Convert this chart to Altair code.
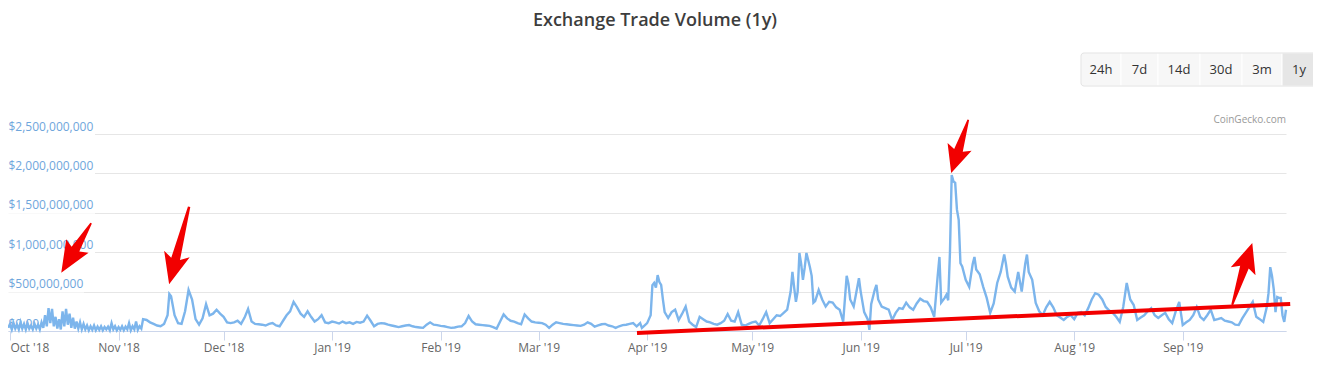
import altair as alt
import pandas as pd

# ---- data: (day offset from 2018-10-01, exchange volume in million USD) ----
oct_2018 = [(-0.5,40),(0,90),(0.5,20),(1,100),(1.5,30),(2,80),(2.5,20),(3,110),(3.5,30),(4,90),(4.5,20),
            (5,100),(5.5,30),(6,70),(6.5,20),(7,90),(7.5,30),(8,80),(8.5,20),(9,110),(9.5,40),(10,200),
            (10.5,60),(11,290),(11.5,100),(12,280),(12.5,60),(13,180),(13.5,30),(14,150),(14.5,20),(15,250),
            (15.5,60),(16,280),(16.5,80),(17,220),(17.5,40),(18,170),(18.5,30),(19,120),(19.5,30),(20,110),
            (20.5,20),(21,90),(21.5,20),(22,70),(22.5,10),(23,60),(23.5,15),(24,70),(24.5,10),(25,55),
            (25.5,15),(26,60),(26.5,10),(27,50),(27.5,20),(28,55),(28.5,10),(29,100),(29.5,20),(30,60),(30.5,10)]
nov_2018 = [(31,50),(31.5,15),(32,60),(32.5,10),(33,55),(33.5,20),(34,100),(34.5,10),(35,60),(35.5,20),
            (36,120),(36.5,15),(37,60),(37.5,30),(38,150),(39,140),(40,110),(41,90),(42,70),(43,60),(44,90),
            (45,200),(45.5,470),(46,440),(47,200),(48,100),(49,90),(50,250),(51,520),(52,400),(53,150),(54,80),
            (55,160),(56,340),(57,200),(58,220),(59,270),(60,220)]
dec_2018 = [(61,180),(62,110),(63,100),(64,110),(65,130),(66,90),(67,170),(68,280),(69,120),(70,90),(71,85),
            (72,80),(73,70),(74,90),(75,100),(76,70),(77,60),(78,130),(79,200),(80,250),(81,370),(82,300),
            (83,220),(84,180),(85,250),(86,180),(87,120),(88,150),(89,200),(90,110),(91,100)]
jan_2019 = [(92,120),(93,110),(94,95),(95,120),(96,100),(97,110),(98,90),(99,115),(100,105),(101,120),(102,195),
            (103,130),(104,60),(105,90),(106,100),(107,95),(108,80),(109,70),(110,60),(111,50),(112,60),(113,70),
            (114,75),(115,60),(116,50),(117,45),(118,40),(119,80),(120,110),(121,80),(122,75)]
feb_2019 = [(123,65),(124,60),(125,50),(126,40),(127,45),(128,55),(129,60),(130,100),(131,190),(132,120),(133,85),
            (134,80),(135,75),(136,70),(137,65),(138,50),(139,30),(140,120),(141,210),(142,160),(143,130),(144,120),
            (145,100),(146,85),(147,210),(148,160),(149,120),(150,110)]
mar_2019 = [(151,105),(152,100),(153,80),(154,40),(155,80),(156,110),(157,100),(158,90),(159,85),(160,80),(161,75),
            (162,70),(163,65),(164,80),(165,110),(166,90),(167,55),(168,70),(169,85),(170,90),(171,70),(172,60),
            (173,40),(174,60),(175,75),(176,80),(177,90),(178,100),(179,60),(180,100),(180.5,40),(181,60)]
apr_2019 = [(182,100),(183,200),(183.5,580),(184,610),(184.5,550),(185,710),(185.5,620),(186,585),(186.5,400),
            (187,240),(188,165),(189,240),(190,270),(191,140),(192,220),(193,310),(194,120),(195,80),(196,50),
            (197,180),(198,150),(199,120),(200,110),(201,90),(202,80),(203,100),(204,130),(205,215),(206,130),
            (207,120),(208,240),(209,80),(210,70),(211,90)]
may_2019 = [(212,110),(213,120),(214,70),(215,150),(216,240),(217,100),(218,150),(219,200),(220,190),(221,230),
            (222,270),(223,500),(223.5,750),(224,550),(224.5,370),(225,500),(225.5,990),(226,850),(226.5,650),
            (227,800),(227.5,990),(228,900),(228.5,810),(229,700),(229.5,360),(230,380),(231,520),(232,400),
            (233,310),(234,370),(235,360),(236,300),(237,270),(238,120),(239,700),(239.5,600),(240,400),(241,310),
            (242,550),(242.5,670)]
jun_2019 = [(243,500),(244,240),(245,150),(245.5,15),(246,340),(247,520),(247.5,585),(248,400),(249,310),(250,290),
            (251,270),(252,140),(253,230),(254,290),(255,280),(256,360),(257,300),(258,270),(259,350),(260,410),
            (261,380),(262,370),(263,300),(264,180),(265,700),(265.5,940),(266,360),(267,420),(267.5,460),(268,390),
            (268.5,990),(269,1980),(269.5,1900),(270,1880),(270.5,1540),(271,1410),(271.5,860),(272,820)]
jul_2019 = [(273,650),(274,560),(275,850),(275.5,940),(276,780),(277,720),(278,560),(279,420),(280,230),(281,350),
            (282,610),(283,750),(284,970),(284.5,850),(285,690),(286,550),(287,500),(288,750),(289,500),(290,850),
            (290.5,970),(291,750),(292,650),(293,355),(294,250),(295,200),(296,300),(297,370),(298,300),(299,200),
            (300,170),(301,140),(302,180),(303,200)]
aug_2019 = [(304,150),(305,230),(306,240),(307,200),(308,290),(309,400),(310,480),(311,460),(312,400),(313,305),
            (314,260),(315,230),(316,180),(317,115),(318,305),(319,610),(320,400),(321,330),(322,140),(323,170),
            (324,200),(325,250),(326,290),(327,200),(328,165),(329,200),(330,230),(331,150),(332,100),(333,250),
            (334,370)]
sep_2019 = [(335,75),(336,110),(337,140),(338,200),(339,305),(340,180),(341,140),(342,200),(343,270),(344,140),
            (345,150),(346,165),(347,130),(348,120),(349,110),(350,80),(351,75),(352,160),(353,230),(354,300),
            (355,370),(356,180),(357,150),(358,115),(359,300),(359.5,480),(360,810),(360.5,700),(361,530),
            (361.5,240),(362,430),(362.5,420),(363,420),(363.5,200),(364,115),(364.5,270)]

# annotation: red trend line (day, million USD)
trend_days = [179.1, 365.7]
trend_vals = [-25, 343]
# annotation: red arrows (center day, center value M, angle deg, length px, head length, head half width)
arrow_days = [18.9, 48.3, 271.3, 352.0]
arrow_vals = [1054, 1086, 2343, 724]
arrow_angles = [211, 194.5, 197.8, 18]
arrow_lengths = [58, 80, 56, 65]
arrow_head_len = [1.0, 0.7, 0.9, 0.83]
arrow_head_w = [0.45, 0.33, 0.45, 0.4]

y_ticks = [0, 500000000, 1000000000, 1500000000, 2000000000, 2500000000]
button_labels = ["24h", "7d", "14d", "30d", "3m", "1y"]
button_edges = [1073, 1113, 1150, 1192, 1234, 1274, 1308]

BASE = pd.Timestamp("2018-10-01T00:00:00Z")


def stamp(d):
    return (BASE + pd.Timedelta(days=d)).strftime("%Y-%m-%dT%H:%M:%SZ")


def ms(d):
    return int((BASE + pd.Timedelta(days=d)).timestamp() * 1000)


rows = [p for seg in [oct_2018, nov_2018, dec_2018, jan_2019, feb_2019, mar_2019, apr_2019,
                      may_2019, jun_2019, jul_2019, aug_2019, sep_2019] for p in seg]
df = pd.DataFrame({"date": [stamp(d) for d, _ in rows], "volume": [v * 1e6 for _, v in rows]})

month_ticks = [int(pd.Timestamp(f"{y}-{m:02d}-01T00:00:00Z").timestamp() * 1000)
               for y, m in [(2018, 10), (2018, 11), (2018, 12), (2019, 1), (2019, 2), (2019, 3), (2019, 4),
                            (2019, 5), (2019, 6), (2019, 7), (2019, 8), (2019, 9)]]

FONT = "Open Sans"
xscale = alt.Scale(type="utc", domain=[ms(-0.583), ms(364.5)])
yscale = alt.Scale(domain=[0, 2500000000], nice=False, zero=True)

x_axis = alt.Axis(
    values=month_ticks, labelExpr="utcFormat(datum.value, \"%b '%y\")", title=None, grid=False,
    domainColor="#ccd6eb", tickColor="#ccd6eb", tickSize=9, labelColor="#666666",
    labelFont=FONT, labelFontSize=12, labelPadding=2, labelFlush=5, labelOverlap=False)
y_axis = alt.Axis(
    values=y_ticks, title=None, domain=False, ticks=False, grid=True, gridColor="#e6e6e6",
    labelAlign="left", labelBaseline="bottom", labelPadding=0, labelOffset=-1, labelOverlap=False,
    labelColor="#6fa6dc", labelFont=FONT, labelFontSize=12,
    labelExpr="datum.value == 0 ? '$0.00' : '$' + format(datum.value, ',.0f')")


def xe():
    return alt.X("date:T", scale=xscale, axis=x_axis)


def ye():
    return alt.Y("volume:Q", scale=yscale, axis=y_axis)


one = alt.Data(values=[{"k": 0}])

# gridlines start after their labels (label-width gaps)
gaps = []
for v in y_ticks[1:]:
    gap_end = 76 if v < 1e9 else 87
    gaps.append(alt.Chart(one).mark_rule(color="#ffffff", strokeWidth=2).encode(
        y=alt.Y(datum=v, scale=yscale, axis=y_axis), x=alt.value(0), x2=alt.value(gap_end)))

line = alt.Chart(df).mark_line(color="#7cb5ec", strokeWidth=2.4).encode(x=xe(), y=ye())

trend_df = pd.DataFrame({"date": [stamp(d) for d in trend_days], "volume": [v * 1e6 for v in trend_vals]})
trend = alt.Chart(trend_df).mark_line(color="#f20000", strokeWidth=4, clip=False).encode(x=xe(), y=ye())


def arrow_path(hl, hw, sw):
    yb = -1 + hl
    return (f"M0,-1L{hw},{yb + 0.08:.3f}L{sw:.3f},{yb - 0.05:.3f}L0.03,1L-0.03,1"
            f"L{-sw:.3f},{yb - 0.05:.3f}L{-hw},{yb + 0.08:.3f}Z")


arrow_df = pd.DataFrame({
    "date": [stamp(d) for d in arrow_days],
    "volume": [v * 1e6 for v in arrow_vals],
    "ang": arrow_angles,
    "sz": [L * L for L in arrow_lengths],
    "path": [arrow_path(hl, hw, 4.5 / (L / 2)) for hl, hw, L in zip(arrow_head_len, arrow_head_w, arrow_lengths)],
})
arrows = alt.Chart(arrow_df).mark_point(filled=True, color="#f20000", opacity=1, clip=False).encode(
    x=xe(), y=ye(),
    angle=alt.Angle("ang:Q", scale=None),
    size=alt.Size("sz:Q", scale=None),
    shape=alt.Shape("path:N", scale=None),
)

deco = []
deco.append(alt.Chart(one).mark_text(text="Exchange Trade Volume (1y)", font=FONT, fontSize=18, fontWeight=600,
                                      color="#3d3d3d", align="center", baseline="alphabetic").encode(
    x=alt.value(647), y=alt.value(-108)))
for i, lab in enumerate(button_labels):
    x0, x1 = button_edges[i], button_edges[i + 1]
    deco.append(alt.Chart(one).mark_rect(fill="#e6e6e6" if lab == "1y" else "#f7f7f7",
                                         stroke="#ffffff", strokeWidth=1).encode(
        x=alt.value(x0), x2=alt.value(x1), y=alt.value(-81), y2=alt.value(-48)))
    deco.append(alt.Chart(one).mark_text(text=lab, font=FONT, fontSize=13, color="#333333",
                                         align="center", baseline="middle").encode(
        x=alt.value((x0 + x1) / 2), y=alt.value(-64.5)))
deco.append(alt.Chart(one).mark_rect(fill="transparent", stroke="#e2e2e2", strokeWidth=1, cornerRadius=3).encode(
    x=alt.value(button_edges[0]), x2=alt.value(button_edges[-1]), y=alt.value(-81), y2=alt.value(-48)))
deco.append(alt.Chart(one).mark_text(text="CoinGecko.com", font=FONT, fontSize=10, color="#999999",
                                     align="right", baseline="middle").encode(
    x=alt.value(1278), y=alt.value(-14)))

chart = alt.layer(*gaps, line, trend, arrows, *deco).properties(
    width=1278, height=197,
    autosize=alt.AutoSizeParams(type="none"),
    padding={"left": 0, "top": 126, "right": 27, "bottom": 30},
).configure_view(stroke=None)

chart.save("out.html", embed_options={"renderer": "svg", "actions": False})
